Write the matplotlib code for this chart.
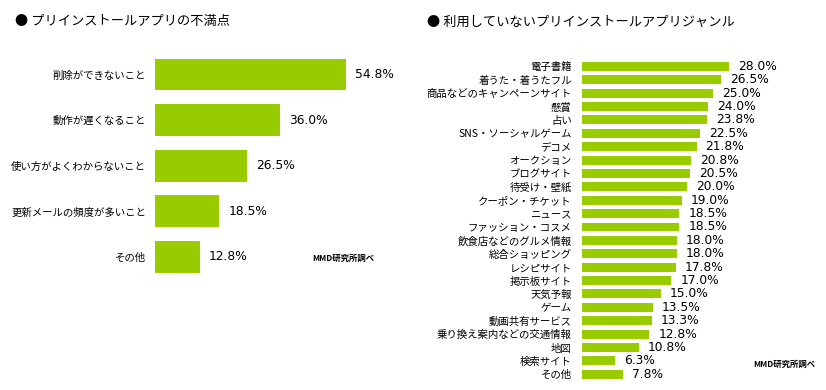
import matplotlib
matplotlib.use("Agg")
import matplotlib.pyplot as plt

plt.rcParams['font.family'] = ['Noto Sans CJK JP', 'DejaVu Sans']

# left chart: dissatisfaction with preinstalled apps
left_title = "● プリインストールアプリの不満点"
left_cats = ["削除ができないこと", "動作が遅くなること", "使い方がよくわからないこと",
             "更新メールの頻度が多いこと", "その他"]
left_vals = [54.8, 36.0, 26.5, 18.5, 12.8]

# right chart: genres of preinstalled apps not used
right_title = "● 利用していないプリインストールアプリジャンル"
right_cats = ["電子書籍", "着うた・着うたフル", "商品などのキャンペーンサイト", "懸賞", "占い",
              "SNS・ソーシャルゲーム", "デコメ", "オークション", "ブログサイト", "待受け・壁紙",
              "クーポン・チケット", "ニュース", "ファッション・コスメ", "飲食店などのグルメ情報",
              "総合ショッピング", "レシピサイト", "掲示板サイト", "天気予報", "ゲーム",
              "動画共有サービス", "乗り換え案内などの交通情報", "地図", "検索サイト", "その他"]
right_vals = [28.0, 26.5, 25.0, 24.0, 23.8, 22.5, 21.8, 20.8, 20.5, 20.0, 19.0, 18.5,
              18.5, 18.0, 18.0, 17.8, 17.0, 15.0, 13.5, 13.3, 12.8, 10.8, 6.3, 7.8]

source = "MMD研究所調べ"
green = '#99cc00'

W, H = 826, 390
fig = plt.figure(figsize=(W / 100, H / 100), dpi=100)


def px_axes(x0, y0, x1, y1):
    # pixel box (top-left origin) -> figure axes
    return fig.add_axes([x0 / W, 1 - y1 / H, (x1 - x0) / W, (y1 - y0) / H])


def draw(ax, cats, vals, xmax, bar_h, pad, lab_size):
    ypos = list(range(len(cats)))
    ax.barh(ypos, vals, height=bar_h, color=green)
    ax.set_xlim(0, xmax)
    ax.set_ylim(len(cats) - 0.5, -0.5)
    ax.set_yticks(ypos)
    ax.set_yticklabels(cats, fontsize=lab_size)
    ax.tick_params(axis='y', length=0, pad=pad)
    ax.set_xticks([])
    for s in ax.spines.values():
        s.set_visible(False)
    for y, v in zip(ypos, vals):
        ax.annotate(f"{v:.1f}%", (v, y), xytext=(6.5, 0), textcoords='offset points',
                    va='center', ha='left', fontsize=8.8, family='DejaVu Sans')


axl = px_axes(155, 51.7, 155 + 3.486 * 70, 279.8)
draw(axl, left_cats, left_vals, 70, 0.70, 6.5, 7.5)

axr = px_axes(581.7, 59.6, 581.7 + 5.27 * 40, 381)
draw(axr, right_cats, right_vals, 40, 0.67, 7.2, 7.5)

fig.text(15 / W, 1 - 22 / H, left_title, fontsize=9.5, va='center', ha='left')
fig.text(427 / W, 1 - 22 / H, right_title, fontsize=9.5, va='center', ha='left')

fig.text(312 / W, 1 - 258 / H, source, fontsize=6, weight='bold', va='center', ha='left')
fig.text(753 / W, 1 - 364 / H, source, fontsize=6, weight='bold', va='center', ha='left')

fig.savefig("out.png", dpi=100, facecolor='white')
